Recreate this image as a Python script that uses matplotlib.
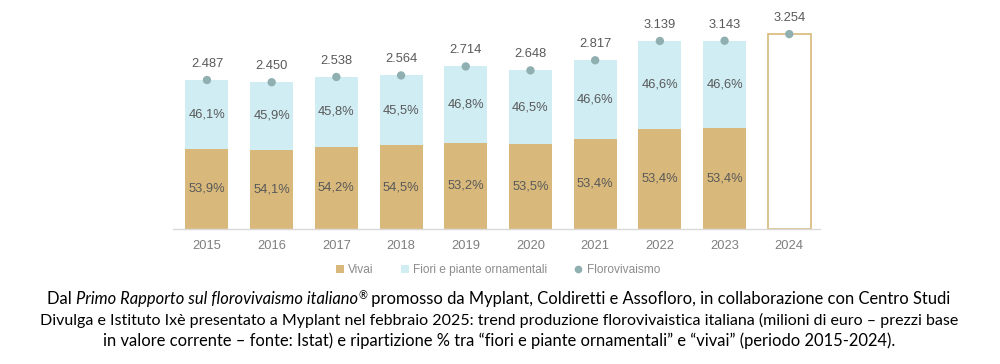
import matplotlib
matplotlib.use("Agg")
import matplotlib.pyplot as plt
from matplotlib.patches import Patch
from matplotlib.lines import Line2D

years = ["2015", "2016", "2017", "2018", "2019", "2020", "2021", "2022", "2023", "2024"]
totals = [2487, 2450, 2538, 2564, 2714, 2648, 2817, 3139, 3143, 3254]
total_labels = ["2.487", "2.450", "2.538", "2.564", "2.714", "2.648", "2.817", "3.139", "3.143", "3.254"]
vivai_pct = [53.9, 54.1, 54.2, 54.5, 53.2, 53.5, 53.4, 53.4, 53.4]
fiori_pct = [46.1, 45.9, 45.8, 45.5, 46.8, 46.5, 46.6, 46.6, 46.6]

C_VIV = "#D8B97B"
C_FIO = "#D0EDF4"
C_DOT = "#8FAFB1"
C_TXT = "#595959"

W, H = 1000, 364
fig = plt.figure(figsize=(W / 100, H / 100), dpi=100)
fig.patch.set_facecolor("white")

ax_left, ax_right = 173, 820
ax_top, ax_base = 0, 229
ax = fig.add_axes([ax_left / W, (H - ax_base) / H, (ax_right - ax_left) / W, (ax_base - ax_top) / H])
ax.set_xlim(-0.525, 9.475)
ax.set_ylim(0, 3823)

x = list(range(len(years)))
bw = 0.665
n = len(vivai_pct)
viv_vals = [totals[i] * vivai_pct[i] / 100 for i in range(n)]
fio_vals = [totals[i] - viv_vals[i] for i in range(n)]

ax.bar(x[:n], viv_vals, width=bw, color=C_VIV, zorder=2)
ax.bar(x[:n], fio_vals, bottom=viv_vals, width=bw, color=C_FIO, zorder=2)
ax.bar(x[n:], [totals[i] for i in range(n, len(years))], width=bw, facecolor="white",
       edgecolor=C_VIV, linewidth=1.2, zorder=2)
ax.scatter(x, totals, s=36, color=C_DOT, zorder=4, edgecolors="none")

fam = ["Liberation Sans", "DejaVu Sans"]
fs = 9.3
for i in range(len(years)):
    ax.annotate(total_labels[i], (x[i], totals[i]), xytext=(0, 11.5), textcoords="offset points",
                ha="center", va="center", fontsize=fs, color=C_TXT, family=fam)
for i in range(n):
    ax.text(x[i], viv_vals[i] / 2, f"{vivai_pct[i]:.1f}%".replace(".", ","), ha="center", va="center",
            fontsize=fs, color=C_TXT, family=fam)
    ax.text(x[i], viv_vals[i] + fio_vals[i] / 2, f"{fiori_pct[i]:.1f}%".replace(".", ","), ha="center",
            va="center", fontsize=fs, color=C_TXT, family=fam)

for s in ["top", "left", "right"]:
    ax.spines[s].set_visible(False)
ax.spines["bottom"].set_color("#D9D9D9")
ax.spines["bottom"].set_linewidth(1.0)
ax.set_yticks([])
ax.set_xticks(x)
ax.set_xticklabels(years, fontsize=fs, color="#7F7F7F", family=fam)
ax.tick_params(axis="x", length=0, pad=8)
ax.set_facecolor("none")

handles = [Patch(facecolor=C_VIV, edgecolor="none"),
           Patch(facecolor=C_FIO, edgecolor="none"),
           Line2D([], [], marker="o", linestyle="none", color=C_DOT, markersize=4.5)]
leg = fig.legend(handles, ["Vivai", "Fiori e piante ornamentali", "Florovivaismo"], ncol=3,
                 loc="center", bbox_to_anchor=(498 / W, 1 - 270 / H), frameon=False,
                 prop={"family": fam, "size": 8.6}, handlelength=0.65, handleheight=0.65,
                 handletextpad=0.35, columnspacing=2.3, labelcolor="#8C8C8C")

# caption with mixed styles
cfam = ["Lato", "DejaVu Sans"]
fig.canvas.draw()
renderer = fig.canvas.get_renderer()

def draw_line(segments, xc, yb, cs):
    objs = []
    for txt, style, sup in segments:
        t = fig.text(0, 0, txt, fontsize=cs * (0.65 if sup else 1), style=style, family=cfam,
                     color="black", ha="left", va="baseline", transform=None)
        objs.append((t, sup))
    widths = [t.get_window_extent(renderer).width for t, _ in objs]
    total = sum(widths)
    xs = xc - total / 2
    for (t, sup), w in zip(objs, widths):
        t.set_position((xs, H - yb + (5 if sup else 0)))
        xs += w

lines = [
    [("Dal ", "normal", False), ("Primo Rapporto sul florovivaismo italiano", "italic", False), ("®", "normal", True),
     (" promosso da Myplant, Coldiretti e Assofloro, in collaborazione con Centro Studi", "normal", False)],
    [("Divulga e Istituto Ixè presentato a Myplant nel febbraio 2025: trend produzione florovivaistica italiana (milioni di euro – prezzi base", "normal", False)],
    [("in valore corrente – fonte: Istat) e ripartizione % tra “fiori e piante ornamentali” e “vivai” (periodo 2015-2024).", "normal", False)],
]
for ln, yb, cs in zip(lines, [304, 325, 346], [11.9, 11.55, 11.9]):
    draw_line(ln, 499, yb, cs)

fig.savefig("out.png", dpi=100, facecolor="white")
